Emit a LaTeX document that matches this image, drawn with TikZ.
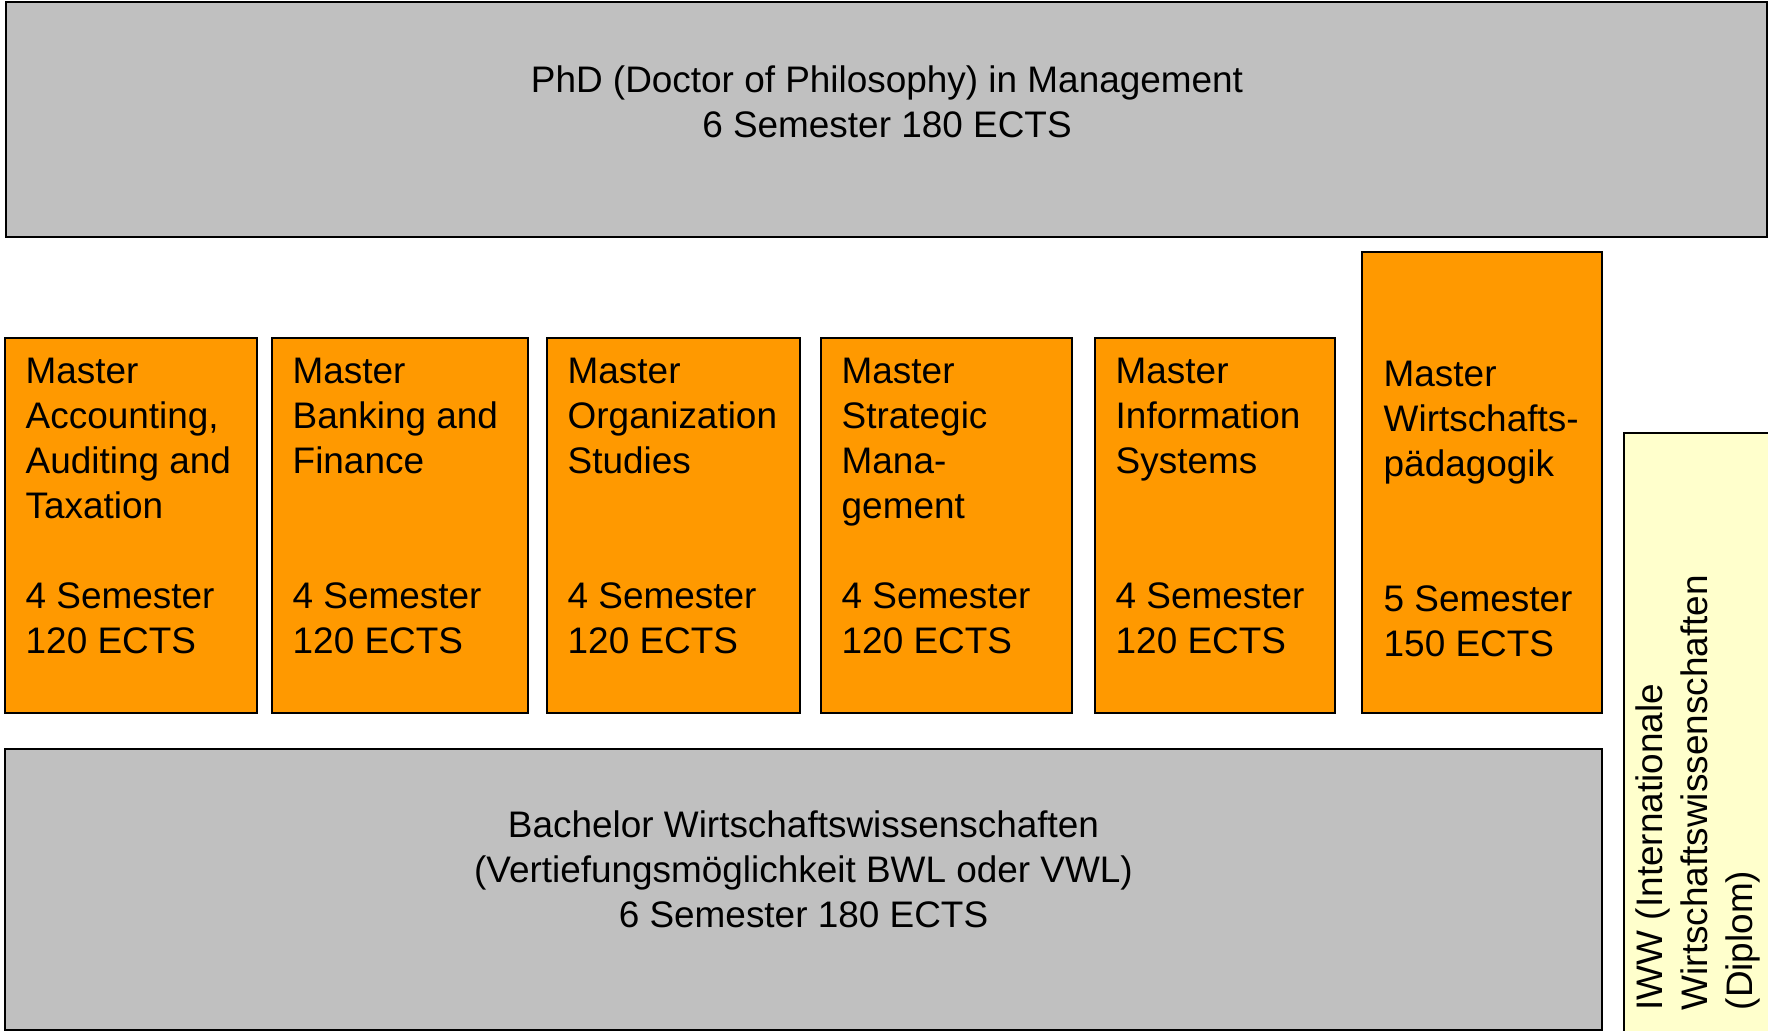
\documentclass[tikz,border=0pt]{standalone}
\usepackage{fontspec}
\setmainfont{Liberation Sans}
\usetikzlibrary{fit}
\definecolor{boxgray}{HTML}{C0C0C0}
\definecolor{boxorange}{HTML}{FF9900}
\definecolor{boxyellow}{HTML}{FFFFCC}
\begin{document}
\begin{tikzpicture}[x=0.01cm,y=-0.01cm,
  box/.style={draw=black, line width=0.7pt, inner sep=0pt},
  graybox/.style={box, fill=boxgray},
  orangebox/.style={box, fill=boxorange},
  yellowbox/.style={box, fill=boxyellow},
  lbl/.style={inner sep=0pt, font=\fontsize{10.5}{12.8}\selectfont},
  lleft/.style={lbl, align=left, anchor=base west},
  lcenter/.style={lbl, align=center, anchor=base},
]
\useasboundingbox[fill=white] (0,0) rectangle (1768,1031);
% boxes
\node[graybox, fit={(6,2) (1767,237)}] (phd) {};
\node[orangebox, fit={(5,338) (257,713)}] (m1) {};
\node[orangebox, fit={(272,338) (528,713)}] (m2) {};
\node[orangebox, fit={(547,338) (800,713)}] (m3) {};
\node[orangebox, fit={(821,338) (1072,713)}] (m4) {};
\node[orangebox, fit={(1095,338) (1335,713)}] (m5) {};
\node[orangebox, fit={(1362,252) (1602,713)}] (m6) {};
\node[graybox, fit={(5,749) (1602,1030)}] (bach) {};
\node[yellowbox, fit={(1624,433) (1800,1050)}] (iww) {};
% texts (anchor = baseline of the last line)
\node[lcenter] (phdt) at (887,137.7) {PhD (Doctor of Philosophy) in Management\\6 Semester 180 ECTS};
\node[lleft] (m1t) at (25,519) {Master\\Accounting,\\Auditing and\\Taxation};
\node[lleft] (m1s) at (25,654) {4 Semester\\120 ECTS};
\node[lleft] (m2t) at (292,474) {Master\\Banking and\\Finance};
\node[lleft] (m2s) at (292,654) {4 Semester\\120 ECTS};
\node[lleft] (m3t) at (567,474) {Master\\Organization\\Studies};
\node[lleft] (m3s) at (567,654) {4 Semester\\120 ECTS};
\node[lleft] (m4t) at (841,519) {Master\\Strategic\\Mana-\\gement};
\node[lleft] (m4s) at (841,654) {4 Semester\\120 ECTS};
\node[lleft] (m5t) at (1115,474) {Master\\Information\\Systems};
\node[lleft] (m5s) at (1115,654) {4 Semester\\120 ECTS};
\node[lleft] (m6t) at (1383,476.7) {Master\\Wirtschafts-\\pädagogik};
\node[lleft] (m6s) at (1383,656.7) {5 Semester\\150 ECTS};
\node[lcenter] (bacht) at (803.5,928) {Bachelor Wirtschaftswissenschaften\\(Vertiefungsmöglichkeit BWL oder VWL)\\6 Semester 180 ECTS};
\node[lleft, rotate=90] (iwwt) at (1752.7,1011) {IWW (Internationale\\Wirtschaftswissenschaften\\(Diplom)};
\end{tikzpicture}
\end{document}
